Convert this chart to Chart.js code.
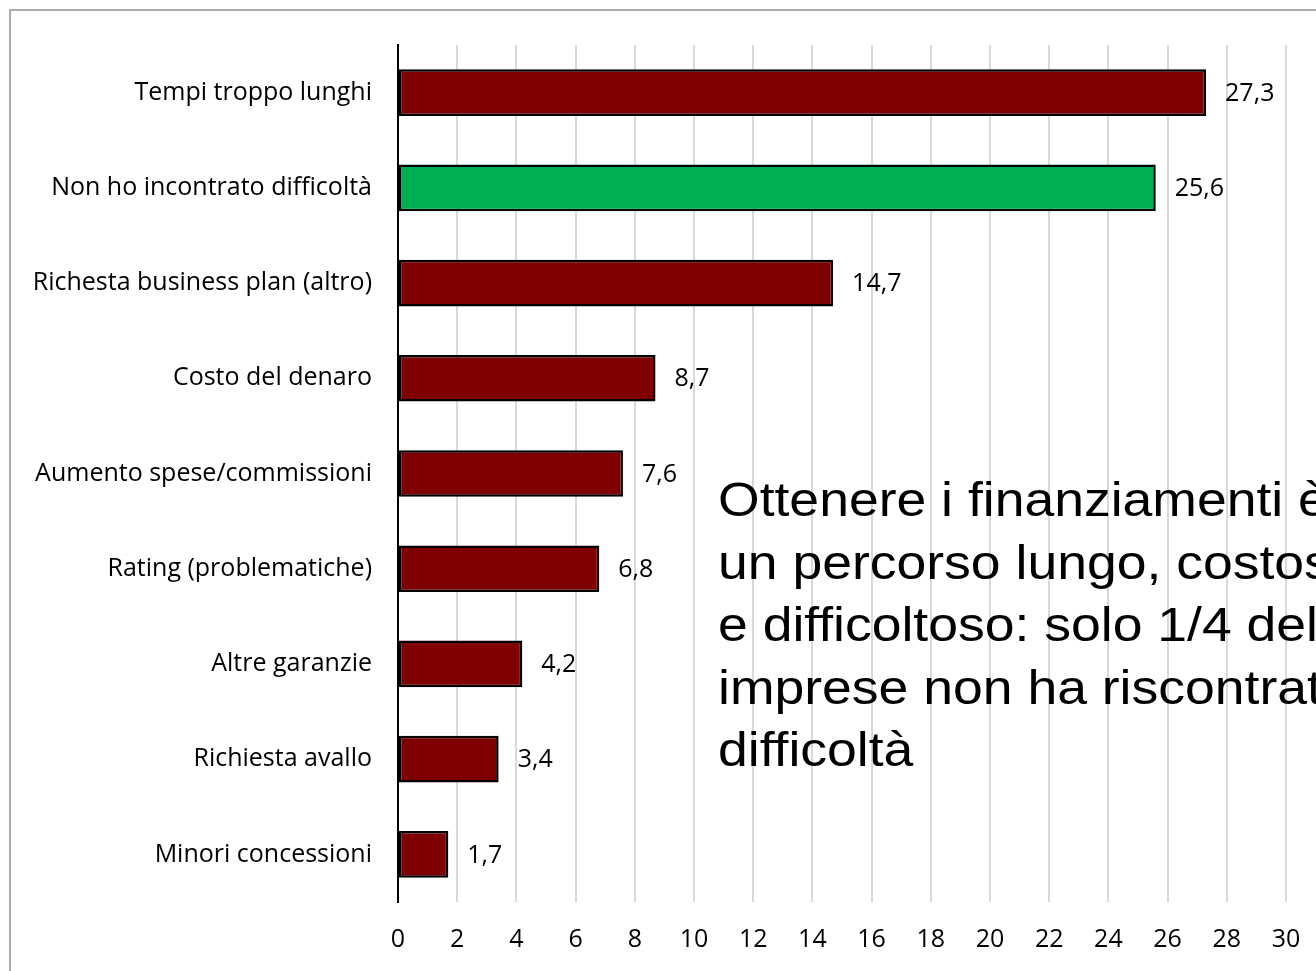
<!DOCTYPE html>
<html>
<head>
<meta charset="utf-8">
<script src="https://cdn.jsdelivr.net/npm/chart.js@4"></script>
<style>
  html, body { margin: 0; padding: 0; background: #fff; overflow: hidden; }
  #wrap { position: relative; width: 1316px; height: 971px; overflow: hidden; }
  #frame {
    position: absolute; left: 9px; top: 9px; width: 1400px; height: 1100px;
    border: 2px solid #ABABAB; box-sizing: border-box;
  }
  #chart { position: absolute; left: 0; top: 0; }
  #note {
    position: absolute; left: 718px; top: 469px;
    font-family: "Liberation Sans", Arial, sans-serif; font-size: 48px; line-height: 62.5px;
    color: #000; white-space: nowrap;
    transform: scaleX(1.115); transform-origin: left top;
  }
</style>
</head>
<body>
<div id="wrap">
  <div id="frame"></div>
  <canvas id="chart" width="1316" height="971"></canvas>
  <div id="note">Ottenere i finanziamenti è<br>un percorso lungo, costoso<br>e difficoltoso: solo 1/4 delle<br>imprese non ha riscontrato<br>difficoltà</div>
</div>
<script>
// Data (percent of firms)
const categories = [
  'Tempi troppo lunghi',
  'Non ho incontrato difficoltà',
  'Richesta business plan (altro)',
  'Costo del denaro',
  'Aumento spese/commissioni',
  'Rating (problematiche)',
  'Altre garanzie',
  'Richiesta avallo',
  'Minori concessioni'
];
const values = [27.3, 25.6, 14.7, 8.7, 7.6, 6.8, 4.2, 3.4, 1.7];
const positiveLabel = 'Non ho incontrato difficoltà';

const AXIS_LEFT = 398;   // plot-area left edge in px
const TEXT_FONT = { family: "'Open Sans', sans-serif", size: 25 };
// tall line height pushes x labels down without widening the scale's side padding
const X_TICK_FONT = { family: "'Open Sans', sans-serif", size: 25, lineHeight: 2.78 };

// Draws "27,3"-style labels to the right of each bar
const valueLabels = {
  id: 'valueLabels',
  afterDatasetsDraw(chart) {
    const ctx = chart.ctx;
    const meta = chart.getDatasetMeta(0);
    ctx.save();
    ctx.font = `${TEXT_FONT.size}px ${TEXT_FONT.family}`;
    ctx.fillStyle = '#000';
    ctx.textAlign = 'left';
    ctx.textBaseline = 'middle';
    meta.data.forEach((bar, i) => {
      const txt = values[i].toFixed(1).replace('.', ',');
      ctx.fillText(txt, bar.x + 19, bar.y + 1);
    });
    ctx.restore();
  }
};

const ctx = document.getElementById('chart').getContext('2d');
new Chart(ctx, {
  type: 'bar',
  data: {
    labels: categories,
    datasets: [{
      data: values,
      backgroundColor: (c) => categories[c.dataIndex] === positiveLabel ? '#00B050' : '#7F0000',
      borderColor: '#000',
      borderWidth: 2.5,
      borderSkipped: false,
      categoryPercentage: 1,
      barPercentage: 0.49
    }]
  },
  options: {
    indexAxis: 'y',
    responsive: false,
    animation: false,
    layout: { padding: { top: 45, right: 30, bottom: 0, left: 0 } },
    plugins: { legend: { display: false }, tooltip: { enabled: false } },
    scales: {
      x: {
        min: 0, max: 30,
        ticks: { stepSize: 2, color: '#000', font: X_TICK_FONT, padding: 3 },
        grid: { color: '#D9D9D9', lineWidth: 2, drawTicks: false },
        border: { display: false },
        afterFit(scale) { scale.height = 971 - 902; }
      },
      y: {
        ticks: { color: '#000', font: TEXT_FONT, padding: 26 },
        grid: { display: false, drawTicks: false },
        border: { display: true, color: '#000', width: 2 },
        afterFit(scale) { scale.width = AXIS_LEFT; }
      }
    }
  },
  plugins: [valueLabels]
});
</script>
</body>
</html>
